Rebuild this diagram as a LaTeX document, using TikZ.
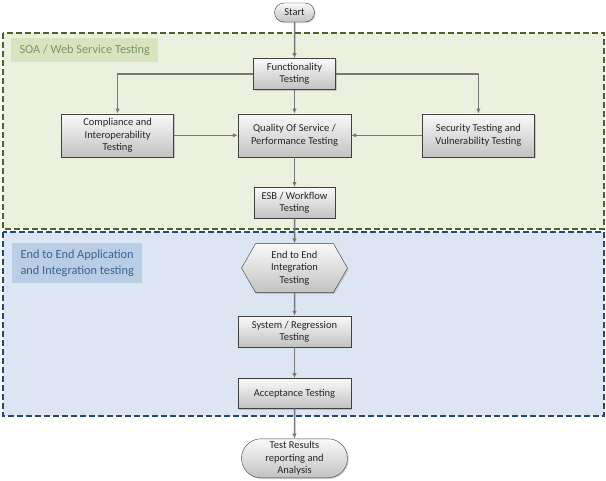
\documentclass[tikz,border=0pt]{standalone}
\usepackage{fontspec}
\setmainfont{Carlito}
\usepackage{tikz}
\usetikzlibrary{arrows.meta,positioning,shapes.misc,shapes.symbols,shadows}
\usepackage{xcolor}
\definecolor{soafill}{RGB}{235,241,222}
\definecolor{soalabel}{RGB}{215,228,189}
\definecolor{soaline}{RGB}{79,98,40}
\definecolor{soatext}{RGB}{128,148,100}
\definecolor{eefill}{RGB}{220,230,242}
\definecolor{eelabel}{RGB}{185,205,229}
\definecolor{eeline}{RGB}{31,73,125}
\definecolor{eetext}{RGB}{62,96,146}
\definecolor{flow}{RGB}{120,120,120}

\begin{document}
\begin{tikzpicture}[x=1pt,y=-1pt,font=\fontsize{10.5}{12.3}\selectfont,
testbox/.style={draw=black!75,top color=gray!4,bottom color=gray!48,
align=center,inner sep=1.5pt,text=black!85,
drop shadow={shadow xshift=1.2pt,shadow yshift=-1.2pt,opacity=0.35}},
arr/.style={-{Latex[length=5pt,width=4.5pt]},draw=flow,line width=1.5pt}]
\useasboundingbox (0,0) rectangle (606,480);

% regions
\draw[soaline,fill=soafill,line width=1.6pt,dash pattern=on 6pt off 3pt] (3,33) rectangle (604,229);
\node[fill=soalabel,text=soatext,font=\fontsize{12.3}{14}\selectfont,anchor=west,
minimum width=147pt,minimum height=22pt,inner sep=7pt,align=left] (soa) at (11,50) {SOA / Web Service Testing};
\draw[eeline,fill=eefill,line width=1.6pt,dash pattern=on 6pt off 3pt] (3,232) rectangle (604,416);
\node[fill=eelabel,text=eetext,font=\fontsize{12.3}{15.5}\selectfont,anchor=north west,
minimum width=130pt,minimum height=37pt,inner sep=7pt,align=left] (ee) at (12,243)
{End to End Application\\and Integration testing};

% flow
\node[testbox,rounded rectangle,minimum width=43pt,minimum height=19pt] (start) at (294.5,12.5) {Start};
\node[testbox,minimum width=82pt,minimum height=31pt,below=36pt of start] (func) {Functionality\\Testing};
\node[testbox,minimum width=113pt,minimum height=43pt,below=24pt of func] (qos) {Quality Of Service /\\Performance Testing};
\node[testbox,minimum width=112pt,minimum height=43pt,left=64pt of qos] (comp) {Compliance and\\Interoperability\\Testing};
\node[testbox,minimum width=112pt,minimum height=43pt,right=71pt of qos] (sec) {Security Testing and\\Vulnerability Testing};
\node[testbox,minimum width=81pt,minimum height=31pt,below=30pt of qos] (esb) {ESB / Workflow\\Testing};
\node[testbox,signal,signal to=west and east,signal pointer angle=120,
minimum width=106pt,minimum height=49pt,inner sep=1pt,below=25pt of esb] (e2e) {End to End\\Integration\\Testing};
\node[testbox,minimum width=113pt,minimum height=31pt,below=23pt of e2e] (sys) {System / Regression\\Testing};
\node[testbox,minimum width=113pt,minimum height=30pt,below=31pt of sys] (acc) {Acceptance Testing};
\node[testbox,rounded rectangle,minimum width=107pt,minimum height=39pt,inner sep=0.5pt,
below=30pt of acc] (res) {Test Results\\reporting and\\Analysis};

\draw[arr] (start)--(func);
\draw[arr] (func)--(qos);
\draw[arr] (func.west)-|(comp.north);
\draw[arr] (func.east)-|(sec.north);
\draw[arr] (comp)--(qos);
\draw[arr] (sec)--(qos);
\draw[arr] (qos)--(esb);
\draw[arr] (esb)--(e2e);
\draw[arr] (e2e)--(sys);
\draw[arr] (sys)--(acc);
\draw[arr] (acc)--(res);
\end{tikzpicture}
\end{document}
